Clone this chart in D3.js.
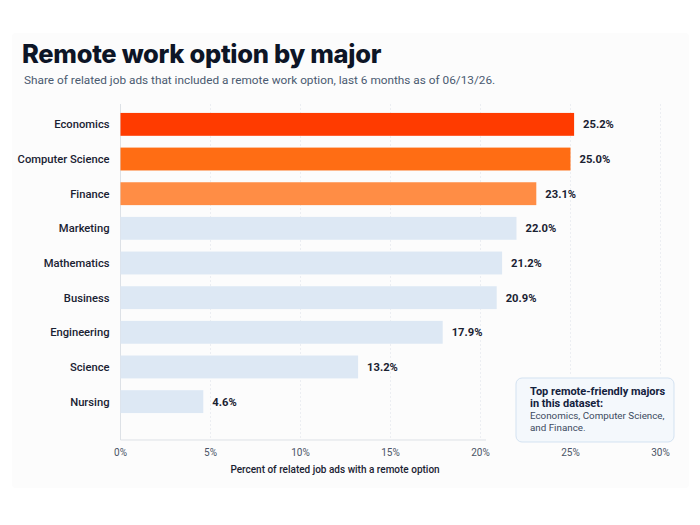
<!DOCTYPE html>
<head>
  <meta charset="utf-8">
  <script src="https://d3js.org/d3.v7.min.js"></script>
  <style>
    body { margin:0; background:#ffffff; font-family: Roboto, "Noto Sans", sans-serif; }
  </style>
</head>
<body>
<script>

/* Data */
/* ==== */

var majors = ["Economics", "Computer Science", "Finance", "Marketing", "Mathematics",
              "Business", "Engineering", "Science", "Nursing"];
var shares = [25.2, 25.0, 23.1, 22.0, 21.2, 20.9, 17.9, 13.2, 4.6];
var barColors = ["#ff3b00", "#ff6d14", "#ff8d45", "#dde8f4", "#dde8f4",
                 "#dde8f4", "#dde8f4", "#dde8f4", "#dde8f4"];
var xTicks = [0, 5, 10, 15, 20, 25, 30];
var noteLines = ["Top remote-friendly majors", "in this dataset:",
                 "Economics, Computer Science,", "and Finance."];

/* Set up */
/* ====== */

var width = 700,
    height = 525,
    margin = { top: 106, right: 40, bottom: 105, left: 120.5 };

var svg = d3.select('body')
  .append('svg')
    .attr('width', width)
    .attr('height', height);

// card background
svg.append('rect')
    .attr('x', 12).attr('y', 33)
    .attr('width', 677).attr('height', 455)
    .attr('rx', 4)
    .attr('fill', '#fcfcfc');

svg.append('text')
    .attr('x', 22).attr('y', 63)
    .attr('font-family', 'Inter, sans-serif')
    .attr('font-size', 25.5)
    .attr('font-weight', 800)
    .attr('fill', '#0d1526')
    .attr('letter-spacing', -0.3)
    .text('Remote work option by major');

svg.append('text')
    .attr('x', 24).attr('y', 84)
    .attr('font-size', 11.8)
    .attr('fill', '#4a5a70')
    .text('Share of related job ads that included a remote work option, last 6 months as of 06/13/26.');

var x = d3.scaleLinear()
    .domain([0, 30])
    .range([margin.left, 660.5]);

var y = d3.scaleBand()
    .domain(majors)
    .range([margin.top, height - margin.bottom])
    .paddingInner(0.34)
    .paddingOuter(0.2);

var axisBottom = 440;

// gridlines
svg.selectAll('.grid')
    .data(xTicks.slice(1))
    .enter()
  .append('line')
    .attr('class', 'grid')
    .attr('x1', d => x(d)).attr('x2', d => x(d))
    .attr('y1', margin.top - 2).attr('y2', axisBottom)
    .attr('stroke', '#eceef2')
    .attr('stroke-dasharray', '2,2')
    .attr('stroke-width', 1);

// axis lines
svg.append('line')
    .attr('x1', x(0)).attr('x2', x(0))
    .attr('y1', margin.top - 2).attr('y2', axisBottom)
    .attr('stroke', '#dde1e6');
svg.append('line')
    .attr('x1', x(0)).attr('x2', x(30))
    .attr('y1', axisBottom).attr('y2', axisBottom)
    .attr('stroke', '#dde1e6');

// bars
svg.selectAll('.bar')
    .data(majors)
    .enter()
  .append('rect')
    .attr('class', 'bar')
    .attr('x', x(0))
    .attr('y', d => y(d))
    .attr('width', (d, i) => x(shares[i]) - x(0))
    .attr('height', y.bandwidth())
    .attr('fill', (d, i) => barColors[i]);

// category labels
svg.selectAll('.cat')
    .data(majors)
    .enter()
  .append('text')
    .attr('class', 'cat')
    .attr('x', x(0) - 11)
    .attr('y', d => y(d) + y.bandwidth() / 2)
    .attr('dy', '0.35em')
    .attr('text-anchor', 'end')
    .attr('font-size', 11.2)
    .attr('font-weight', 500)
    .attr('fill', '#1a2232')
    .text(d => d);

// value labels
svg.selectAll('.val')
    .data(majors)
    .enter()
  .append('text')
    .attr('class', 'val')
    .attr('x', (d, i) => x(shares[i]) + 9)
    .attr('y', d => y(d) + y.bandwidth() / 2)
    .attr('dy', '0.35em')
    .attr('font-size', 11.2)
    .attr('font-weight', 700)
    .attr('fill', '#1a2232')
    .text((d, i) => shares[i].toFixed(1) + '%');

// note box, with halo over the axis
var nb = { x: 516, y: 378, w: 158, h: 64 };
svg.append('rect')
    .attr('x', nb.x - 30).attr('y', nb.y - 4)
    .attr('width', nb.w + 34).attr('height', nb.h + 8)
    .attr('fill', '#fcfcfc');
svg.append('rect')
    .attr('x', nb.x).attr('y', nb.y)
    .attr('width', nb.w).attr('height', nb.h)
    .attr('rx', 6)
    .attr('fill', '#f4f8fc')
    .attr('stroke', '#d3e2f1');

svg.selectAll('.note')
    .data(noteLines)
    .enter()
  .append('text')
    .attr('class', 'note')
    .attr('x', nb.x + 14)
    .attr('y', (d, i) => nb.y + 17 + i * 12)
    .attr('font-size', (d, i) => i < 2 ? 11 : 9.8)
    .attr('font-weight', (d, i) => i < 2 ? 700 : 400)
    .attr('fill', (d, i) => i < 2 ? '#13213d' : '#3c4a60')
    .text(d => d);

// x tick labels
svg.selectAll('.tick')
    .data(xTicks)
    .enter()
  .append('text')
    .attr('class', 'tick')
    .attr('x', d => x(d))
    .attr('y', axisBottom + 16)
    .attr('text-anchor', 'middle')
    .attr('font-size', 10)
    .attr('fill', '#4a5466')
    .text(d => d + '%');

svg.append('text')
    .attr('x', 335).attr('y', axisBottom + 33)
    .attr('text-anchor', 'middle')
    .attr('font-size', 10)
    .attr('font-weight', 500)
    .attr('fill', '#1a2232')
    .text('Percent of related job ads with a remote option');

</script>
</body>
